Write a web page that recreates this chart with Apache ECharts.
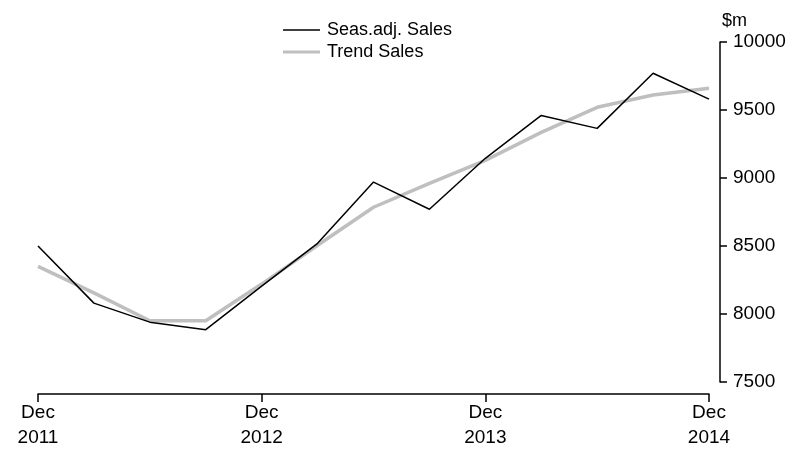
<!DOCTYPE html>
<html>
<head>
<meta charset="utf-8">
<script src="https://cdn.jsdelivr.net/npm/echarts@6/dist/echarts.min.js"></script>
<style>html,body{margin:0;padding:0;background:#fff;}#c{width:799px;height:451px;}</style>
</head>
<body>
<div id="c"></div>
<script>
var categories = ["Dec 2011","Mar 2012","Jun 2012","Sep 2012","Dec 2012","Mar 2013","Jun 2013","Sep 2013","Dec 2013","Mar 2014","Jun 2014","Sep 2014","Dec 2014"];
var seasAdjSales = [8500, 8080, 7940, 7885, 8205, 8520, 8970, 8770, 9145, 9460, 9365, 9770, 9580];
var trendSales = [8350, 8155, 7950, 7950, 8220, 8505, 8785, 8960, 9130, 9335, 9520, 9610, 9660];
var yTicks = [7500, 8000, 8500, 9000, 9500, 10000];

var FONT = '"Liberation Sans", Arial, sans-serif';
var thinIcon = 'path://M0,0 M0,14 M0,6.25 L37,6.25 L37,7.75 L0,7.75 Z';
var thickIcon = 'path://M0,0 M0,14 M0,5.5 L37,5.5 L37,8.5 L0,8.5 Z';
var chart = echarts.init(document.getElementById('c'), null, {renderer: 'canvas'});
chart.setOption({
  animation: false,
  backgroundColor: '#ffffff',
  textStyle: {fontFamily: FONT, color: '#000'},
  grid: {left: 38, right: 90, top: 42, bottom: 69, containLabel: false},
  legend: {
    left: 283, top: 21, orient: 'vertical', itemGap: 4, padding: 0,
    itemWidth: 37, itemHeight: 14,
    textStyle: {fontFamily: FONT, fontSize: 18, color: '#000', padding: [0, 0, 0, 2]},
    data: [
      {name: 'Seas.adj. Sales', icon: thinIcon, itemStyle: {color: '#000000'}},
      {name: 'Trend Sales', icon: thickIcon, itemStyle: {color: '#bfbfbf'}}
    ]
  },
  xAxis: {
    type: 'category', data: categories, boundaryGap: false, offset: 12,
    axisLine: {lineStyle: {color: '#000', width: 1.5}},
    axisTick: {show: true, inside: false, length: 8, interval: 3, lineStyle: {color: '#000', width: 1.5}},
    axisLabel: {interval: 3, fontFamily: FONT, fontSize: 19, color: '#000', lineHeight: 25, margin: 6,
      formatter: function (v) { return v.replace(' ', '\n'); }},
    splitLine: {show: false}
  },
  yAxis: {
    type: 'value', position: 'right', offset: 11,
    min: yTicks[0], max: yTicks[yTicks.length - 1], interval: 500,
    name: '$m', nameLocation: 'end', nameGap: 12,
    nameTextStyle: {fontFamily: FONT, fontSize: 18, color: '#000', align: 'left', padding: [0, 0, 0, 2]},
    axisLine: {show: true, lineStyle: {color: '#000', width: 1.5}},
    axisTick: {show: true, inside: false, length: 7, lineStyle: {color: '#000', width: 1.5}},
    axisLabel: {fontFamily: FONT, fontSize: 19, color: '#000', margin: 13,
      formatter: function (v) { return String(v); }},
    splitLine: {show: false}
  },
  series: [
    {name: 'Seas.adj. Sales', type: 'line', data: seasAdjSales, symbol: 'none',
      lineStyle: {color: '#000000', width: 1.5}, itemStyle: {color: '#000000'}, z: 3},
    {name: 'Trend Sales', type: 'line', data: trendSales, symbol: 'none',
      lineStyle: {color: '#bfbfbf', width: 3.5}, itemStyle: {color: '#bfbfbf'}, z: 2}
  ]
});
</script>
</body>
</html>
